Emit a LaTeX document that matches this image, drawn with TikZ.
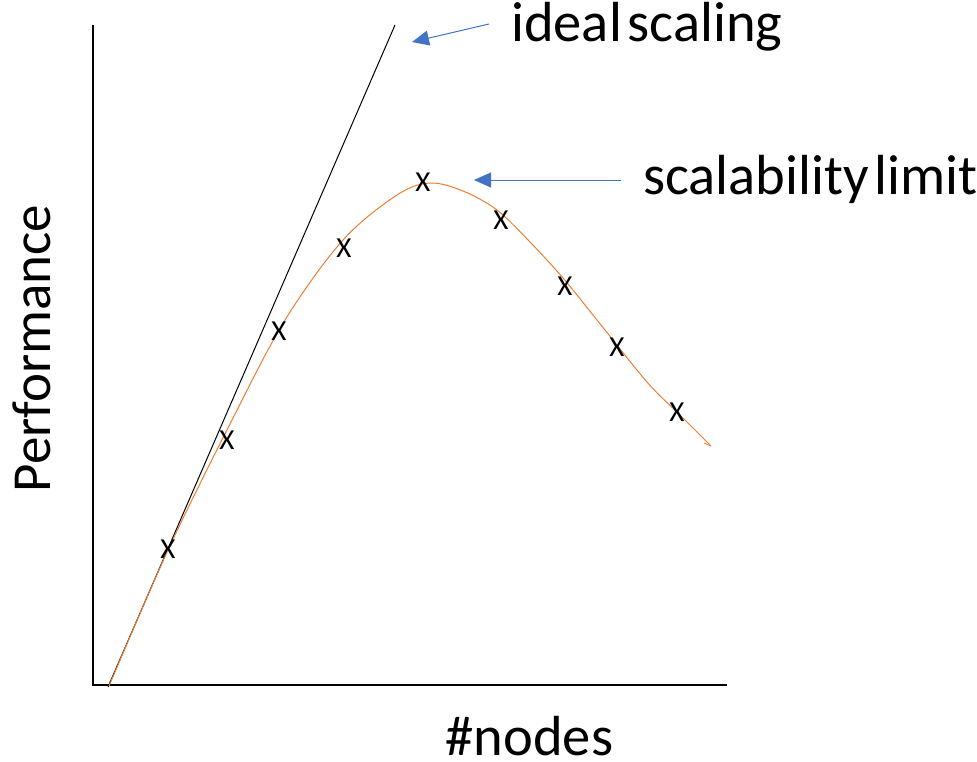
\documentclass[tikz,border=0pt]{standalone}
\usepackage{fontspec}
\setmainfont{Carlito}
\usetikzlibrary{arrows.meta}
\begin{document}
\begin{tikzpicture}[x=1pt,y=-1pt,
  bigtext/.style={inner sep=0pt,font=\fontsize{56.5}{62}\selectfont},
  xmark/.style={inner sep=0pt,font=\fontsize{29}{32}\selectfont},
  callout/.style={draw={rgb,255:red,68;green,114;blue,196},line width=1pt,-{Triangle[length=17pt,width=15pt]}},
  axis/.style={draw=black,line width=1.2pt},
  curve/.style={draw={rgb,255:red,237;green,125;blue,49},line width=1pt}]
\useasboundingbox (0,0) rectangle (977,761);
% axes
\coordinate (ytop) at (93,25);
\coordinate (origin) at (93,685);
\coordinate (xend) at (727,685);
\draw[axis] (ytop) -- (origin) -- (xend);
% ideal line
\coordinate (i0) at (108,687);
\coordinate (i1) at (395,25);
\draw[line width=1pt] (i0) -- (i1);
% curve
\coordinate (cend) at (711,446);
\coordinate (chook) at (704,443);
\draw[curve] plot[smooth,tension=0.55] coordinates {(109,686) (168,550) (231,422) (285,320) (343,240) (397,195) (430,183) (463,191) (497,210) (530,242) (563,278) (597,320) (647,382) (680,415) (711,446)};
\draw[curve,line width=0.8pt] (cend) -- (chook);
% marks
\foreach \n/\p in {a/{(168,549)},b/{(227,440)},c/{(279,331)},d/{(344,248)},e/{(423,182)},f/{(501,220)},g/{(565,286)},h/{(617,347)},k/{(677,412)}}
  \node[xmark] (m\n) at \p {X};
% labels
\node[bigtext,anchor=base west] (ideal) at (511,41) {ideal\hspace{0.1em}scaling};
\node[bigtext,anchor=base west] (limit) at (643,194) {scalability\hspace{0.1em}limit};
\node[bigtext,anchor=base,text depth=0pt] (nodes) at (529.5,755) {\#nodes};
\node[inner sep=0pt,font=\fontsize{55}{60}\selectfont,anchor=base,rotate=90] (perf) at (50,348.5) {Performance};
% callouts
\coordinate (ia) at (489,24);
\coordinate (ib) at (412,42);
\draw[callout] (ia) -- (ib);
\coordinate (la) at (621,180);
\coordinate (lb) at (474,180);
\draw[callout] (la) -- (lb);
\end{tikzpicture}
\end{document}
